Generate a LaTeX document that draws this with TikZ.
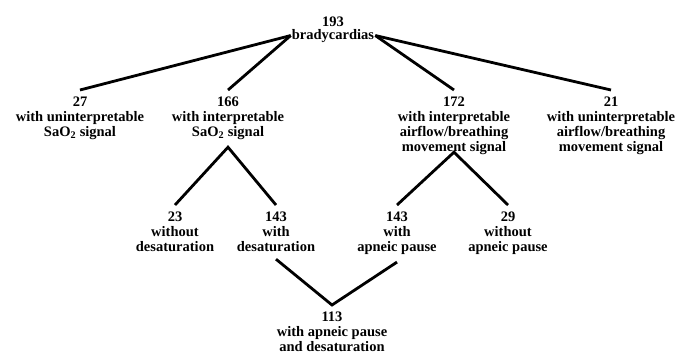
\documentclass[tikz,border=0pt]{standalone}
\usepackage{fontspec}
\setmainfont{Liberation Serif}
\usetikzlibrary{positioning}

\begin{document}
\begin{tikzpicture}[
  x=1pt,
  y=-1pt,
  count/.style={
    align=center,
    anchor=north,
    inner xsep=2pt,
    inner ysep=7pt,
    font=\bfseries\fontsize{14.5}{15}\selectfont
  },
  branch/.style={line width=2.8pt}
]
  \useasboundingbox[fill=white] (0,0) rectangle (682,354);
  \node[count,anchor=base,inner sep=1pt] (brady) at (333,39) {bradycardias};
  \node[count,anchor=base] (n193) at (333,26) {193};
  \node[count] (n27) at (80,90)
    {27\\with uninterpretable\\SaO\textsubscript{2} signal};
  \node[count] (n166) at (228,90)
    {166\\with interpretable\\SaO\textsubscript{2} signal};
  \node[count] (n172) at (454,90)
    {172\\with interpretable\\airflow/breathing\\movement signal};
  \node[count] (n21) at (611,90)
    {21\\with uninterpretable\\airflow/breathing\\movement signal};
  \node[count] (n23) at (175,205) {23\\without\\desaturation};
  \node[count] (n143d) at (276,205) {143\\with\\desaturation};
  \node[count] (n143a) at (397,205) {143\\with\\apneic pause};
  \node[count] (n29) at (508,205) {29\\without\\apneic pause};
  \node[count] (n113) at (332,305) {113\\with apneic pause\\and desaturation};
  \coordinate (fork172) at ([yshift=10pt]n172.south);
  \draw[branch] (brady.west) -- (n27.north);
  \draw[branch] (brady.west) -- (n166.north);
  \draw[branch] (brady.east) -- (n172.north);
  \draw[branch] (brady.east) -- (n21.north);
  \draw[branch] (n23.north) -- (n166.south) -- (n143d.north);
  \draw[branch] (n143a.north) -- (fork172) -- (n29.north);
  \draw[branch] (n143d.south) -- (n113.north) -- (n143a.south);
\end{tikzpicture}
\end{document}
